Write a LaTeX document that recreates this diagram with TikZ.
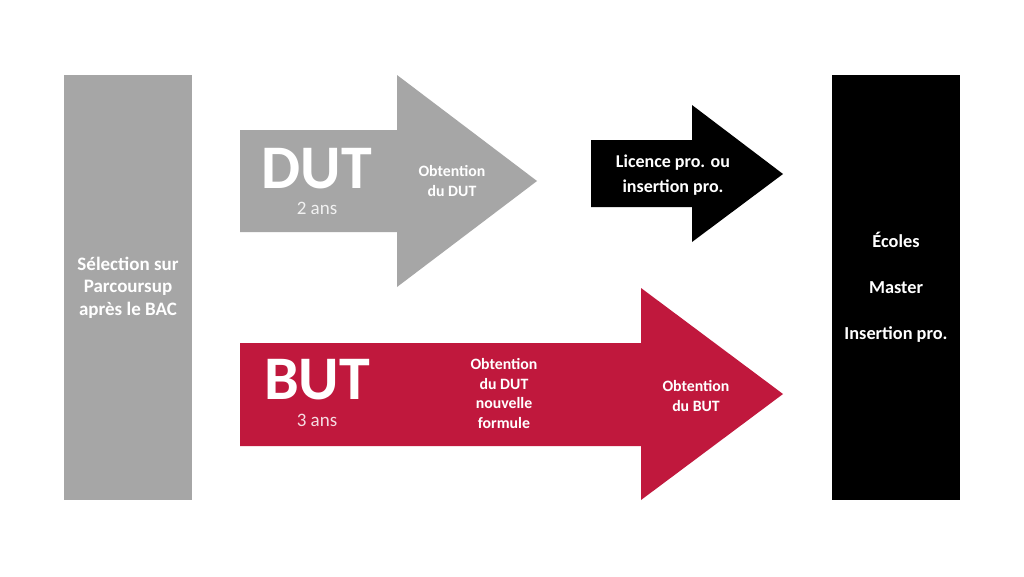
\documentclass[tikz,border=0pt]{standalone}
\usepackage{fontspec}
\setmainfont{Carlito}
\usetikzlibrary{positioning}
\definecolor{dutgray}{HTML}{A6A6A6}
\definecolor{butred}{HTML}{C0183D}
\definecolor{ink}{HTML}{000000}
\tikzset{
  col/.style={rectangle,fill=#1,minimum width=128pt,minimum height=425pt,
              font=\fontsize{19}{22.5}\selectfont\bfseries,align=center,
              text=white,inner sep=0pt},
  big/.style={font=\fontsize{62}{62}\selectfont\bfseries,text=white,
              inner sep=0pt},
  dur/.style={font=\fontsize{19}{19}\selectfont,text=white,
              text opacity=0.85,inner sep=0pt},
  obt/.style={font=\fontsize{15.8}{19.5}\selectfont\bfseries,text=white,
              align=center,inner sep=0pt},
  lic/.style={font=\fontsize{18}{25}\selectfont\bfseries,text=white,
              align=center,inner sep=0pt},
}

\begin{document}
\begin{tikzpicture}[x=1pt,y=-1pt]
  \useasboundingbox (0,0) rectangle (1024,576);
  \fill[white] (0,0) rectangle (1024,576);

  % columns
  \node[col=dutgray] (bac) at (128,287.5)
    {Sélection sur\\Parcoursup\\après le BAC};
  \node[col=ink,font=\fontsize{18.3}{46}\selectfont\bfseries] (apres) at (896,287.5)
    {Écoles\\Master\\Insertion pro.};

  % block arrows
  \fill[dutgray] (240,130) -- (397,130) -- (397,75) -- (537,181)
    -- (397,287) -- (397,232) -- (240,232) -- cycle;
  \fill[ink] (591,140) -- (692,140) -- (692,105) -- (783,174)
    -- (692,242) -- (692,207) -- (591,207) -- cycle;
  \fill[butred] (240,343) -- (641,343) -- (641,288) -- (783,394)
    -- (641,500) -- (641,446) -- (240,446) -- cycle;

  % DUT
  \node[big] (dut) at (317,169) {DUT};
  \node[dur,below=12pt of dut] (dut2) {2 ans};
  \node[obt] (obtdut) at (452,181) {Obtention\\du DUT};

  % licence
  \node[lic] (lic) at (673,175) {Licence pro. ou\\insertion pro.};

  % BUT
  \node[big] (but) at (317,380) {BUT};
  \node[dur,below=13pt of but] (but3) {3 ans};
  \node[obt] (obtnf) at (504,393.5) {Obtention\\du DUT\\nouvelle\\formule};
  \node[obt] (obtbut) at (696,396) {Obtention\\du BUT};
\end{tikzpicture}
\end{document}
